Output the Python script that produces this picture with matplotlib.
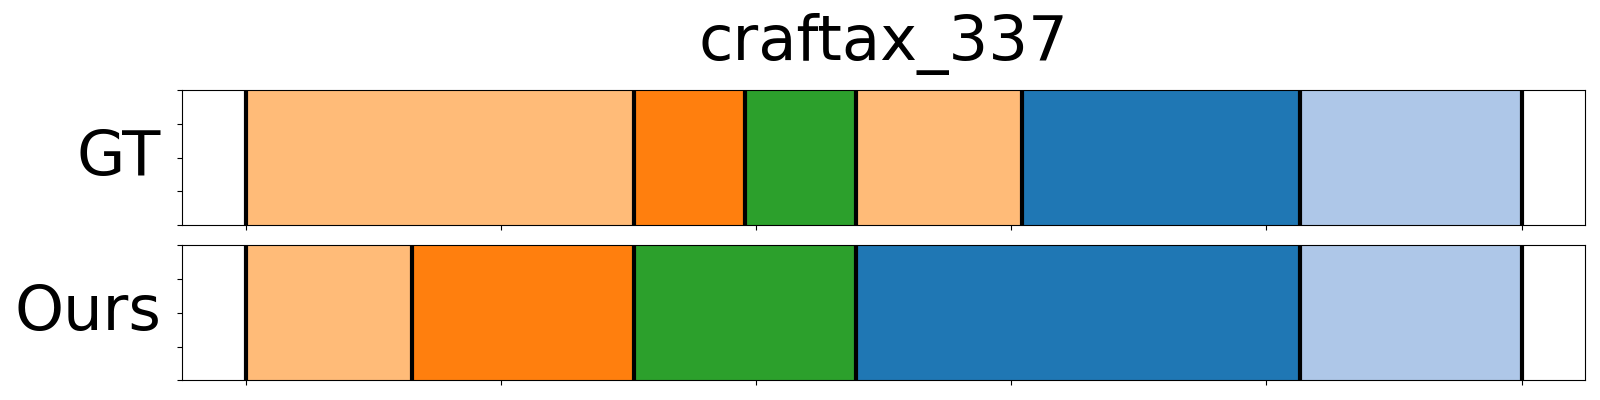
import numpy as np
import matplotlib.pyplot as plt

title = 'craftax_337'
total = 23

# segments: (start, end, colour)
gt_starts = [0, 7, 9, 11, 14, 19]
gt_ends = [7, 9, 11, 14, 19, 23]
gt_colors = ['#ffbb78', '#ff7f0e', '#2ca02c', '#ffbb78', '#1f77b4', '#aec7e8']

ours_starts = [0, 3, 7, 11, 19]
ours_ends = [3, 7, 11, 19, 23]
ours_colors = ['#ffbb78', '#ff7f0e', '#2ca02c', '#1f77b4', '#aec7e8']

fig = plt.figure(figsize=(16, 4), dpi=100)
ax1 = fig.add_axes([0.1136, 0.4375, 0.8773, 0.3365])
ax2 = fig.add_axes([0.1136, 0.0493, 0.8773, 0.3375])

def draw_row(ax, starts, ends, colors, label):
    for s, e, c in zip(starts, ends, colors):
        ax.axvspan(s, e, color=c)
    for b in sorted(set(starts + ends)):
        ax.axvline(b, color='black', linewidth=3)
    ax.set_xlim(-0.05 * total, 1.05 * total)
    ax.set_ylim(0, 1)
    ax.set_xticks(np.linspace(0, total, 6))
    ax.set_xticklabels([])
    ax.set_yticks(np.linspace(0, 1, 5))
    ax.set_yticklabels([])
    ax.set_ylabel(label, rotation=0, ha='right', va='center', fontsize=45, labelpad=8)

draw_row(ax1, gt_starts, gt_ends, gt_colors, 'GT')
draw_row(ax2, ours_starts, ours_ends, ours_colors, 'Ours')
ax1.set_title(title, fontsize=45, pad=22)

plt.savefig('out.png')
